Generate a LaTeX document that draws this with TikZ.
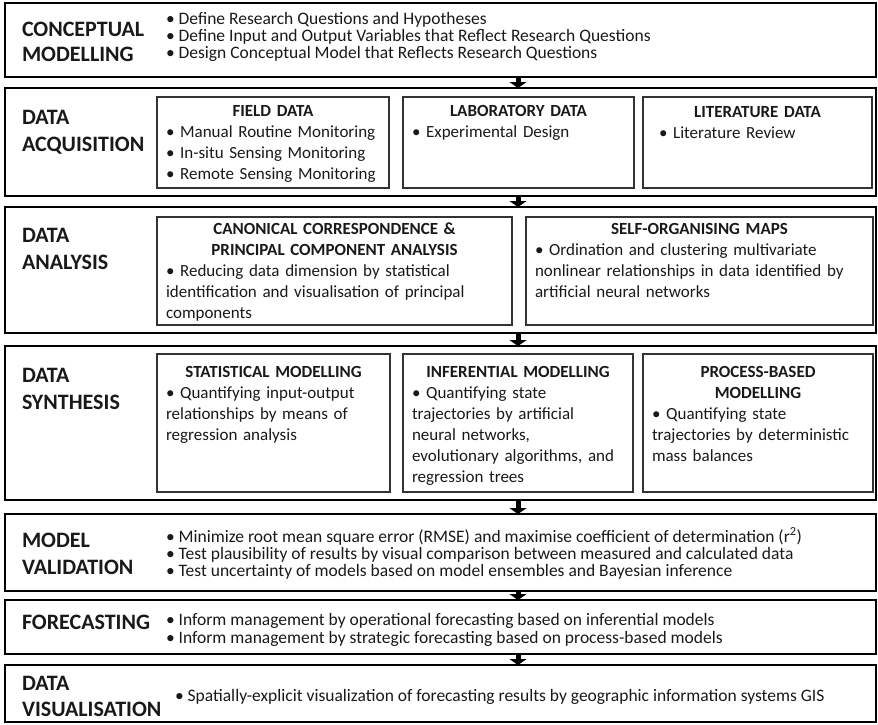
\documentclass[tikz,border=0pt]{standalone}
\usepackage{fontspec}
\setmainfont{Carlito}
\usetikzlibrary{arrows.meta, positioning, calc}

\begin{document}
\begin{tikzpicture}[
  x=1pt, y=-1pt,
  stage/.style={draw, line width=2.4pt, anchor=north west, inner sep=0pt,
                outer sep=0pt},
  subbox/.style={draw=black!80, line width=1.1pt, anchor=north west,
                 inner sep=0pt, outer sep=0pt},
  lbl/.style={anchor=north west, align=left, inner sep=0pt, outer sep=0pt,
              font=\fontsize{22}{27}\selectfont\bfseries, text=black!90},
  pts/.style={anchor=north west, align=left, inner sep=0pt, outer sep=0pt,
              font=\fontsize{17.5}{17}\selectfont, text=black!90},
  subtxt/.style={align=left, text width=#1, inner sep=0pt, outer sep=0pt,
                 font=\fontsize{17}{21}\selectfont, text=black!90},
  flow/.style={-{Triangle[width=17pt,length=6pt]}, line width=5pt},
]
\useasboundingbox (0,0) rectangle (878,724);

%% stage frames
\node[stage, minimum width=871pt, minimum height=74pt]  (cm)  at (5,3)   {};
\node[stage, minimum width=871pt, minimum height=108pt] (acq) at (5,88)  {};
\node[stage, minimum width=871pt, minimum height=126pt] (ana) at (5,207) {};
\node[stage, minimum width=871pt, minimum height=154pt] (syn) at (5,346) {};
\node[stage, minimum width=871pt, minimum height=77pt]  (val) at (5,514) {};
\node[stage, minimum width=871pt, minimum height=54pt]  (fc)  at (5,600) {};
\node[stage, minimum width=871pt, minimum height=57pt]  (vis) at (5,665) {};

%% stage names
\node[lbl] (cmL)  at (22,22)  {CONCEPTUAL\\[-2pt]MODELLING};
\node[lbl] (acqL) at (22,110) {DATA\\ACQUISITION};
\node[lbl] (anaL) at (22,228) {DATA\\ANALYSIS};
\node[lbl] (synL) at (22,368) {DATA\\SYNTHESIS};
\node[lbl] (valL) at (22,533) {MODEL\\VALIDATION};
\node[lbl] (fcL)  at (22,615) {FORECASTING};
\node[lbl] (visL) at (22,676) {DATA\\[-1pt]VISUALISATION};

%% conceptual modelling
\node[pts] (cmT) at (166,12) {%
  • Define Research Questions and Hypotheses\\
  • Define Input and Output Variables that Reflect Research Questions\\
  • Design Conceptual Model that Reflects Research Questions};

%% data acquisition
\node[subbox, minimum width=232pt, minimum height=91pt] (fld) at (157,97) {};
\node[subbox, minimum width=231pt, minimum height=91pt] (lab) at (403,97) {};
\node[subbox, minimum width=229pt, minimum height=91pt] (lit) at (643,97) {};
\node[subtxt=214pt, below=8pt of fld.north] (fldT) {%
  {\centering\bfseries FIELD DATA\par}
  • Manual Routine Monitoring\\
  • In-situ Sensing Monitoring\\
  • Remote Sensing Monitoring};
\node[subtxt=213pt, below=8pt of lab.north] (labT) {%
  {\centering\bfseries LABORATORY DATA\par}
  • Experimental Design};
\node[subtxt=211pt, below=9pt of lit.north] (litT) {%
  {\centering\bfseries LITERATURE DATA\par}
  \hspace*{7pt}• Literature Review};

%% data analysis
\node[subbox, minimum width=355pt, minimum height=108pt] (cca) at (157,217) {};
\node[subbox, minimum width=347pt, minimum height=108pt] (som) at (526,217) {};
\node[subtxt=337pt, below=6pt of cca.north] (ccaT) {%
  {\centering\bfseries CANONICAL CORRESPONDENCE \&\\
   PRINCIPAL COMPONENT ANALYSIS\par}
  • Reducing data dimension by statistical\\
  identification and visualisation of principal\\
  components};
\node[subtxt=329pt, below=6pt of som.north] (somT) {%
  {\centering\bfseries SELF-ORGANISING MAPS\par}
  • Ordination and clustering multivariate\\
  nonlinear relationships in data identified by\\
  artificial neural networks};

%% data synthesis
\node[subbox, minimum width=233pt, minimum height=138pt] (stm) at (157,354) {};
\node[subbox, minimum width=230pt, minimum height=138pt] (inf) at (403,354) {};
\node[subbox, minimum width=230pt, minimum height=138pt] (pbm) at (643,354) {};
\node[subtxt=215pt, below=12pt of stm.north] (stmT) {%
  {\centering\bfseries STATISTICAL MODELLING\par}
  • Quantifying input-output\\
  relationships by means of\\
  regression analysis};
\node[subtxt=212pt, below=12pt of inf.north] (infT) {%
  {\centering\bfseries INFERENTIAL MODELLING\par}
  • Quantifying state\\
  trajectories by artificial\\
  neural networks,\\
  evolutionary algorithms, and\\
  regression trees};
\node[subtxt=212pt, below=12pt of pbm.north] (pbmT) {%
  {\centering\bfseries PROCESS-BASED\\ MODELLING\par}
  • Quantifying state\\
  trajectories by deterministic\\
  mass balances};

%% model validation
\node[pts] (valT) at (166,528) {%
  • Minimize root mean square error (RMSE) and maximise coefficient of determination (r\textsuperscript{2})\\
  • Test plausibility of results by visual comparison between measured and calculated data\\
  • Test uncertainty of models based on model ensembles and Bayesian inference};

%% forecasting
\node[pts] (fcT) at (166,613) {%
  • Inform management by operational forecasting based on inferential models\\[1pt]
  • Inform management by strategic forecasting based on process-based models};

%% data visualisation
\node[pts] (visT) at (175,689) {%
  • Spatially-explicit visualization of forecasting results by geographic information systems GIS};

%% flow arrows
\coordinate (ax) at (518,0);
\draw[flow] (cm.south -| ax)  -- (acq.north -| ax);
\draw[flow] (acq.south -| ax) -- (ana.north -| ax);
\draw[flow] (ana.south -| ax) -- (syn.north -| ax);
\draw[flow] (syn.south -| ax) -- (val.north -| ax);
\draw[flow] (val.south -| ax) -- (fc.north -| ax);
\draw[flow] (fc.south -| ax)  -- (vis.north -| ax);

\end{tikzpicture}
\end{document}
